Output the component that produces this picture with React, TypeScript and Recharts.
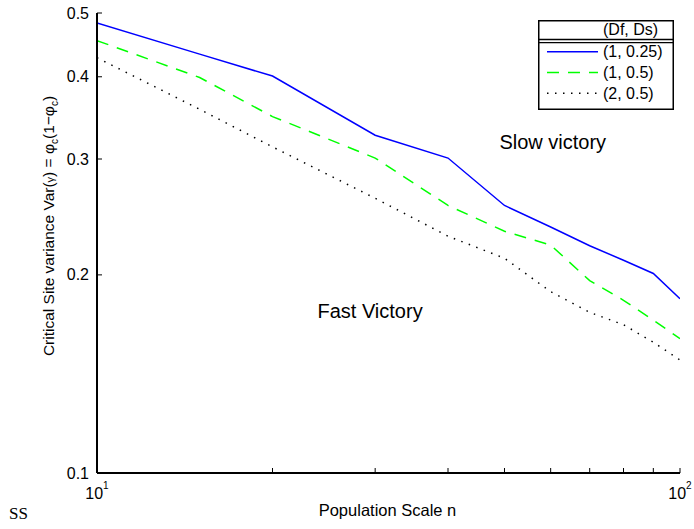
import React from "react";
import { LineChart, Line, XAxis, YAxis, Legend, ReferenceDot } from "recharts";

// ─── Data ─────────────────────────────────────────────────────────────────────

const populationScale = [10, 15, 20, 30, 40, 50, 60, 70, 80, 90, 100];
const varDf1Ds025 = [0.483, 0.433, 0.401, 0.326, 0.301, 0.255, 0.2365, 0.2215, 0.2105, 0.201, 0.184];
const varDf1Ds05 = [0.454, 0.399, 0.348, 0.301, 0.255, 0.233, 0.222, 0.196, 0.183, 0.1707, 0.16];
const varDf2Ds05 = [0.4276, 0.357, 0.313, 0.2615, 0.229, 0.212, 0.1886, 0.1754, 0.168, 0.158, 0.1485];

const seriesNames = ["(1, 0.25)", "(1, 0.5)", "(2, 0.5)"];
const legendTitle = "(Df, Ds)";

const xTicks = [10, 20, 30, 40, 50, 60, 70, 80, 90, 100];
const xExponents: Record<number, string> = { 10: "1", 100: "2" };
const yTicks = [0.1, 0.2, 0.3, 0.4, 0.5];
const yTickLabels: Record<number, string> = { 0.1: "0.1", 0.2: "0.2", 0.3: "0.3", 0.4: "0.4", 0.5: "0.5" };

const annotations = [
  { text: "Slow victory", n: 60.5, v: 0.311 },
  { text: "Fast Victory", n: 29.4, v: 0.172 },
];

const data = populationScale.map((n, i) => ({
  n,
  a: varDf1Ds025[i],
  b: varDf1Ds05[i],
  c: varDf2Ds05[i],
}));

const FONT = '"Liberation Sans", Arial, Helvetica, sans-serif';

const lineStyles = [
  { key: "a", color: "#0000ff", dash: undefined as string | undefined },
  { key: "b", color: "#00ff00", dash: "12 9" },
  { key: "c", color: "#000000", dash: "1.5 6.5" },
];

// ─── Ticks (MATLAB style, pointing inward) ────────────────────────────────────

function BottomTick(props: any) {
  const { x, y, payload } = props;
  const exp = xExponents[payload.value];
  return (
    <g>
      <line x1={x} x2={x} y1={y} y2={y - 5} stroke="#000" strokeWidth={1} />
      {exp && (
        <text x={x} y={y + 26} textAnchor="middle" fontSize={16} fontFamily={FONT} fill="#000">
          10
          <tspan dy={-10} fontSize={10}>
            {exp}
          </tspan>
        </text>
      )}
    </g>
  );
}

function TopTick(props: any) {
  const { x, y } = props;
  return <line x1={x} x2={x} y1={y} y2={y + 5} stroke="#000" strokeWidth={1} />;
}

function LeftTick(props: any) {
  const { x, y, payload } = props;
  return (
    <g>
      <line x1={x} x2={x + 5} y1={y} y2={y} stroke="#000" strokeWidth={1} />
      <text x={x - 8} y={y + 5.5} textAnchor="end" fontSize={16} fontFamily={FONT} fill="#000">
        {yTickLabels[payload.value]}
      </text>
    </g>
  );
}

function RightTick(props: any) {
  const { x, y } = props;
  return <line x1={x} x2={x - 5} y1={y} y2={y} stroke="#000" strokeWidth={1} />;
}

// ─── Labels ───────────────────────────────────────────────────────────────────

function YLabel() {
  return (
    <text
      x={54}
      y={226}
      transform="rotate(-90 54 226)"
      textAnchor="middle"
      fontSize={15.5}
      fontFamily={FONT}
      fill="#000"
    >
      Critical Site variance Var(
      <tspan fontSize={11}>γ</tspan>) = φ
      <tspan dy={4} fontSize={10}>c</tspan>
      <tspan dy={-4}>(1−φ</tspan>
      <tspan dy={4} fontSize={10}>c</tspan>
      <tspan dy={-4}>)</tspan>
    </text>
  );
}

function XLabel(props: any) {
  const vb = props.viewBox || { x: 97, y: 473, width: 583 };
  return (
    <text x={vb.x + vb.width / 2 - 1} y={vb.y + 43} textAnchor="middle" fontSize={16.5} fontFamily={FONT} fill="#000">
      Population Scale n
    </text>
  );
}

function AnnotationLabel(props: any) {
  const vb = props.viewBox || { x: 0, y: 0, width: 0, height: 0 };
  return (
    <text
      x={vb.x + (vb.width || 0) / 2}
      y={vb.y + (vb.height || 0) / 2}
      textAnchor="middle"
      fontSize={20}
      fontFamily={FONT}
      fill="#000"
    >
      {props.text}
    </text>
  );
}

// ─── Legend ───────────────────────────────────────────────────────────────────

function LegendBox(props: any) {
  const payload = props.payload || [];
  return (
    <svg width={136} height={90} style={{ display: "block" }}>
      <rect x={0.75} y={0.75} width={134.5} height={88.5} fill="#fff" stroke="#000" strokeWidth={1.5} />
      <text x={65} y={15} fontSize={16} fontFamily={FONT} fill="#000">
        {legendTitle}
      </text>
      <line x1={0} x2={136} y1={19.5} y2={19.5} stroke="#000" strokeWidth={1.3} />
      <line x1={0} x2={136} y1={22.7} y2={22.7} stroke="#000" strokeWidth={1.3} />
      {payload.map((entry: any, i: number) => {
        const st = lineStyles[i] || lineStyles[0];
        const cy = 31.7 + i * 20.8;
        return (
          <g key={entry.value ?? i}>
            <line
              x1={9}
              x2={60}
              y1={cy}
              y2={cy}
              stroke={entry.color || st.color}
              strokeWidth={1.5}
              strokeDasharray={st.dash}
            />
            <text x={65} y={cy + 5.5} fontSize={16} fontFamily={FONT} fill="#000">
              {entry.value}
            </text>
          </g>
        );
      })}
    </svg>
  );
}

// ─── Chart ────────────────────────────────────────────────────────────────────

export default function App() {
  return (
    <div style={{ position: "absolute", left: 0, top: 0, width: 694, height: 529, background: "#fff" }}>
      <LineChart width={694} height={529} data={data} margin={{ top: 13, right: 14, bottom: 0, left: 0 }}>
        <XAxis
          dataKey="n"
          type="number"
          scale="log"
          domain={[10, 100]}
          ticks={xTicks}
          interval={0}
          height={56}
          tickSize={0}
          tickMargin={0}
          tick={<BottomTick />}
          tickLine={false}
          axisLine={{ stroke: "#000", strokeWidth: 2 }}
          allowDataOverflow
          label={{ content: (p: any) => <XLabel {...p} /> }}
        />
        <XAxis
          xAxisId="top"
          orientation="top"
          dataKey="n"
          type="number"
          scale="log"
          domain={[10, 100]}
          ticks={xTicks}
          interval={0}
          height={0}
          tickSize={0}
          tickMargin={0}
          tick={<TopTick />}
          tickLine={false}
          axisLine={{ stroke: "#000", strokeWidth: 2 }}
          allowDataOverflow
        />
        <YAxis
          type="number"
          scale="log"
          domain={[0.1, 0.5]}
          ticks={yTicks}
          interval={0}
          width={97}
          tickSize={0}
          tickMargin={0}
          tick={<LeftTick />}
          tickLine={false}
          axisLine={{ stroke: "#000", strokeWidth: 2 }}
          allowDataOverflow
          label={{ content: () => <YLabel /> }}
        />
        <YAxis
          yAxisId="right"
          orientation="right"
          type="number"
          scale="log"
          domain={[0.1, 0.5]}
          ticks={yTicks}
          interval={0}
          width={0}
          tickSize={0}
          tickMargin={0}
          tick={<RightTick />}
          tickLine={false}
          axisLine={{ stroke: "#000", strokeWidth: 2 }}
          allowDataOverflow
        />
        <Legend
          layout="vertical"
          align="center"
          verticalAlign="middle"
          wrapperStyle={{ left: 538, top: 20, width: 136, height: 90 }}
          content={(p: any) => <LegendBox {...p} />}
        />
        {lineStyles.map((s, i) => (
          <Line
            key={s.key}
            dataKey={s.key}
            name={seriesNames[i]}
            type="linear"
            stroke={s.color}
            strokeWidth={1.5}
            strokeDasharray={s.dash}
            dot={false}
            activeDot={false}
            isAnimationActive={false}
          />
        ))}
        {annotations.map((a) => (
          <ReferenceDot
            key={a.text}
            x={a.n}
            y={a.v}
            r={0}
            fill="none"
            stroke="none"
            label={{ content: (p: any) => <AnnotationLabel {...p} text={a.text} /> }}
          />
        ))}
      </LineChart>
      <div
        style={{
          position: "absolute",
          left: 9,
          top: 504,
          fontFamily: '"Liberation Serif", "Times New Roman", serif',
          fontSize: 17,
          color: "#000",
        }}
      >
        SS
      </div>
    </div>
  );
}
